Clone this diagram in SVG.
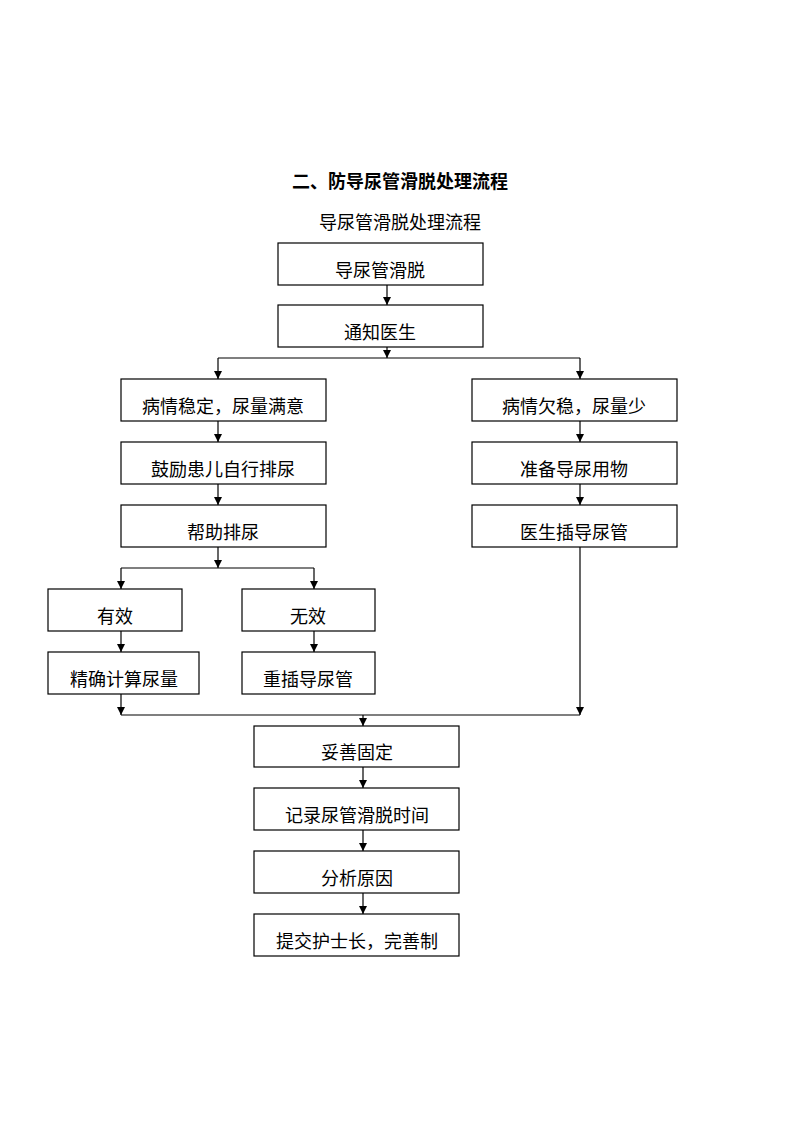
<svg xmlns="http://www.w3.org/2000/svg" width="800" height="1132" viewBox="0 0 800 1132">
<style>
.box{fill:#fff;stroke:#000;stroke-width:1.2}
.t{font-family:"Liberation Serif","Noto Sans CJK SC",serif;font-size:18px;fill:#000;text-anchor:middle}
.title{font-family:"Liberation Sans","Noto Sans CJK SC",sans-serif;font-size:18px;font-weight:bold;fill:#000;text-anchor:middle}
.c{fill:none;stroke:#000;stroke-width:1.2}
</style>
<defs>
<marker id="ah" markerWidth="8" markerHeight="8" refX="8" refY="4" orient="auto" markerUnits="userSpaceOnUse">
<path d="M0,0 L8,4 L0,8 z" fill="#000"/>
</marker>
</defs>
<rect width="800" height="1132" fill="#fff"/>
<text class="title" x="400" y="188">二、防导尿管滑脱处理流程</text>
<text class="t" x="400" y="229">导尿管滑脱处理流程</text>

<g id="connectors">
<path class="c" d="M387,285 V305" marker-end="url(#ah)"/>
<path class="c" d="M387,347 V358" marker-end="url(#ah)"/>
<path class="c" d="M218,358 H580"/>
<path class="c" d="M218,358 V379" marker-end="url(#ah)"/>
<path class="c" d="M580,358 V379" marker-end="url(#ah)"/>
<path class="c" d="M218,421 V442" marker-end="url(#ah)"/>
<path class="c" d="M218,484 V505" marker-end="url(#ah)"/>
<path class="c" d="M580,421 V442" marker-end="url(#ah)"/>
<path class="c" d="M580,484 V505" marker-end="url(#ah)"/>
<path class="c" d="M218,547 V568" marker-end="url(#ah)"/>
<path class="c" d="M121,568 H314"/>
<path class="c" d="M121,568 V589" marker-end="url(#ah)"/>
<path class="c" d="M314,568 V589" marker-end="url(#ah)"/>
<path class="c" d="M121,631 V652" marker-end="url(#ah)"/>
<path class="c" d="M314,631 V652" marker-end="url(#ah)"/>
<path class="c" d="M121,694 V715" marker-end="url(#ah)"/>
<path class="c" d="M580,547 V715" marker-end="url(#ah)"/>
<path class="c" d="M121,715 H580"/>
<path class="c" d="M363,715 V726" marker-end="url(#ah)"/>
<path class="c" d="M363,767 V788" marker-end="url(#ah)"/>
<path class="c" d="M363,830 V851" marker-end="url(#ah)"/>
<path class="c" d="M363,893 V914" marker-end="url(#ah)"/>
</g>

<g id="n1"><rect class="box" x="278" y="243" width="205" height="42"/><text class="t" x="380" y="277">导尿管滑脱</text></g>
<g id="n2"><rect class="box" x="278" y="305" width="205" height="42"/><text class="t" x="380" y="339">通知医生</text></g>
<g id="n3"><rect class="box" x="121" y="379" width="205" height="42"/><text class="t" x="223" y="413">病情稳定，尿量满意</text></g>
<g id="n4"><rect class="box" x="121" y="442" width="205" height="42"/><text class="t" x="223" y="476">鼓励患儿自行排尿</text></g>
<g id="n5"><rect class="box" x="121" y="505" width="205" height="42"/><text class="t" x="223" y="539">帮助排尿</text></g>
<g id="n6"><rect class="box" x="472" y="379" width="205" height="42"/><text class="t" x="574" y="413">病情欠稳，尿量少</text></g>
<g id="n7"><rect class="box" x="472" y="442" width="205" height="42"/><text class="t" x="574" y="476">准备导尿用物</text></g>
<g id="n8"><rect class="box" x="472" y="505" width="205" height="42"/><text class="t" x="574" y="539">医生插导尿管</text></g>
<g id="n9"><rect class="box" x="48" y="589" width="134" height="42"/><text class="t" x="115" y="623">有效</text></g>
<g id="n10"><rect class="box" x="242" y="589" width="133" height="42"/><text class="t" x="308" y="623">无效</text></g>
<g id="n11"><rect class="box" x="48" y="652" width="151" height="42"/><text class="t" x="124" y="686">精确计算尿量</text></g>
<g id="n12"><rect class="box" x="242" y="652" width="133" height="42"/><text class="t" x="308" y="686">重插导尿管</text></g>
<g id="n13"><rect class="box" x="254" y="726" width="205" height="41"/><text class="t" x="357" y="759">妥善固定</text></g>
<g id="n14"><rect class="box" x="254" y="788" width="205" height="42"/><text class="t" x="357" y="822">记录尿管滑脱时间</text></g>
<g id="n15"><rect class="box" x="254" y="851" width="205" height="42"/><text class="t" x="357" y="885">分析原因</text></g>
<g id="n16"><rect class="box" x="254" y="914" width="205" height="42"/><text class="t" x="357" y="948">提交护士长，完善制</text></g>
</svg>
